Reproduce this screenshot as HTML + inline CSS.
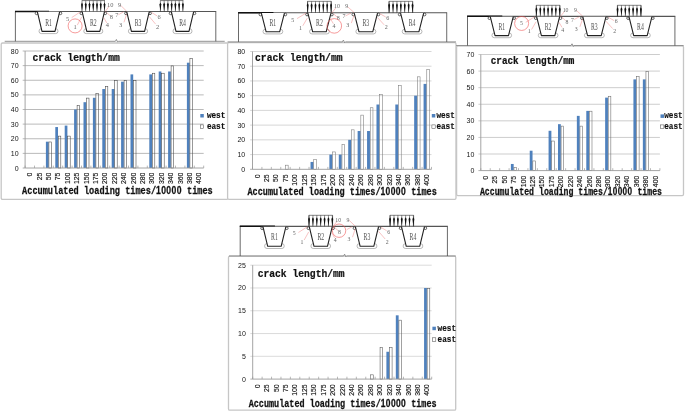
<!DOCTYPE html>
<html lang="en">
<head>
<meta charset="utf-8">
<title>Crack length versus accumulated loading times</title>
<style>
html,body{margin:0;padding:0;background:#fff;}
body{width:685px;height:412px;overflow:hidden;}
svg{display:block;}
</style>
</head>
<body>
<svg width="685" height="412" viewBox="0 0 685 412">
<rect x="0" y="0" width="685" height="412" fill="#fff"/>
<g>
<rect x="1.2" y="43" width="226.8" height="156.4" rx="1.3" fill="#fff" stroke="#c6c6c6" stroke-width="1.3"/>
<line x1="22.7" y1="168" x2="25.1" y2="168" stroke="#9a9a9a" stroke-width="0.8"/>
<text x="18.6" y="170.5" text-anchor="end" font-family='"Liberation Sans", sans-serif' font-size="7" fill="#151515">0</text>
<line x1="22.7" y1="153.38" x2="203.7" y2="153.38" stroke="#a8a8a8" stroke-width="0.8"/>
<text x="18.6" y="155.88" text-anchor="end" font-family='"Liberation Sans", sans-serif' font-size="7" fill="#151515">10</text>
<line x1="22.7" y1="138.75" x2="203.7" y2="138.75" stroke="#a8a8a8" stroke-width="0.8"/>
<text x="18.6" y="141.25" text-anchor="end" font-family='"Liberation Sans", sans-serif' font-size="7" fill="#151515">20</text>
<line x1="22.7" y1="124.12" x2="203.7" y2="124.12" stroke="#a8a8a8" stroke-width="0.8"/>
<text x="18.6" y="126.62" text-anchor="end" font-family='"Liberation Sans", sans-serif' font-size="7" fill="#151515">30</text>
<line x1="22.7" y1="109.5" x2="203.7" y2="109.5" stroke="#a8a8a8" stroke-width="0.8"/>
<text x="18.6" y="112" text-anchor="end" font-family='"Liberation Sans", sans-serif' font-size="7" fill="#151515">40</text>
<line x1="22.7" y1="94.88" x2="203.7" y2="94.88" stroke="#a8a8a8" stroke-width="0.8"/>
<text x="18.6" y="97.38" text-anchor="end" font-family='"Liberation Sans", sans-serif' font-size="7" fill="#151515">50</text>
<line x1="22.7" y1="80.25" x2="203.7" y2="80.25" stroke="#a8a8a8" stroke-width="0.8"/>
<text x="18.6" y="82.75" text-anchor="end" font-family='"Liberation Sans", sans-serif' font-size="7" fill="#151515">60</text>
<line x1="22.7" y1="65.62" x2="203.7" y2="65.62" stroke="#a8a8a8" stroke-width="0.8"/>
<text x="18.6" y="68.12" text-anchor="end" font-family='"Liberation Sans", sans-serif' font-size="7" fill="#151515">70</text>
<line x1="22.7" y1="51" x2="203.7" y2="51" stroke="#a8a8a8" stroke-width="0.8"/>
<text x="18.6" y="53.5" text-anchor="end" font-family='"Liberation Sans", sans-serif' font-size="7" fill="#151515">80</text>
<rect x="45.9" y="141.68" width="2.7" height="26.32" fill="#4f81bd"/>
<rect x="48.9" y="141.98" width="2.5" height="26.02" fill="none" stroke="#444" stroke-width="0.55"/>
<rect x="55.3" y="127.05" width="2.7" height="40.95" fill="#4f81bd"/>
<rect x="58.3" y="136.12" width="2.5" height="31.87" fill="none" stroke="#444" stroke-width="0.55"/>
<rect x="64.7" y="125.59" width="2.7" height="42.41" fill="#4f81bd"/>
<rect x="67.7" y="136.12" width="2.5" height="31.87" fill="none" stroke="#444" stroke-width="0.55"/>
<rect x="74.1" y="109.5" width="2.7" height="58.5" fill="#4f81bd"/>
<rect x="77.1" y="105.41" width="2.5" height="62.59" fill="none" stroke="#444" stroke-width="0.55"/>
<rect x="83.5" y="102.19" width="2.7" height="65.81" fill="#4f81bd"/>
<rect x="86.5" y="98.1" width="2.5" height="69.9" fill="none" stroke="#444" stroke-width="0.55"/>
<rect x="92.9" y="97.8" width="2.7" height="70.2" fill="#4f81bd"/>
<rect x="95.9" y="93.71" width="2.5" height="74.29" fill="none" stroke="#444" stroke-width="0.55"/>
<rect x="102.3" y="89.03" width="2.7" height="78.97" fill="#4f81bd"/>
<rect x="105.3" y="86.4" width="2.5" height="81.6" fill="none" stroke="#444" stroke-width="0.55"/>
<rect x="111.7" y="89.03" width="2.7" height="78.97" fill="#4f81bd"/>
<rect x="114.7" y="80.55" width="2.5" height="87.45" fill="none" stroke="#444" stroke-width="0.55"/>
<rect x="121.1" y="81.71" width="2.7" height="86.29" fill="#4f81bd"/>
<rect x="124.1" y="80.55" width="2.5" height="87.45" fill="none" stroke="#444" stroke-width="0.55"/>
<rect x="130.5" y="74.4" width="2.7" height="93.6" fill="#4f81bd"/>
<rect x="133.5" y="80.55" width="2.5" height="87.45" fill="none" stroke="#444" stroke-width="0.55"/>
<rect x="149.3" y="74.4" width="2.7" height="93.6" fill="#4f81bd"/>
<rect x="152.3" y="73.24" width="2.5" height="94.76" fill="none" stroke="#444" stroke-width="0.55"/>
<rect x="158.7" y="71.48" width="2.7" height="96.52" fill="#4f81bd"/>
<rect x="161.7" y="73.24" width="2.5" height="94.76" fill="none" stroke="#444" stroke-width="0.55"/>
<rect x="168.1" y="71.48" width="2.7" height="96.52" fill="#4f81bd"/>
<rect x="171.1" y="65.92" width="2.5" height="102.08" fill="none" stroke="#444" stroke-width="0.55"/>
<rect x="186.9" y="62.7" width="2.7" height="105.3" fill="#4f81bd"/>
<rect x="189.9" y="58.61" width="2.5" height="109.39" fill="none" stroke="#444" stroke-width="0.55"/>
<line x1="25.1" y1="51" x2="25.1" y2="168" stroke="#9a9a9a" stroke-width="0.9"/>
<line x1="25.1" y1="168" x2="203.7" y2="168" stroke="#9a9a9a" stroke-width="0.9"/>
<path d="M25.1 168 v-2.4 M34.5 168 v-2.4 M43.9 168 v-2.4 M53.3 168 v-2.4 M62.7 168 v-2.4 M72.1 168 v-2.4 M81.5 168 v-2.4 M90.9 168 v-2.4 M100.3 168 v-2.4 M109.7 168 v-2.4 M119.1 168 v-2.4 M128.5 168 v-2.4 M137.9 168 v-2.4 M147.3 168 v-2.4 M156.7 168 v-2.4 M166.1 168 v-2.4 M175.5 168 v-2.4 M184.9 168 v-2.4 M194.3 168 v-2.4 M203.7 168 v-2.4" stroke="#9a9a9a" stroke-width="0.7" fill="none"/>
<text transform="translate(32.2 172.6) rotate(-90) scale(1 1.1)" text-anchor="end" font-family='"Liberation Sans", sans-serif' font-size="6.9" fill="#111" stroke="#111" stroke-width="0.12">0</text>
<text transform="translate(41.6 172.6) rotate(-90) scale(1 1.1)" text-anchor="end" font-family='"Liberation Sans", sans-serif' font-size="6.9" fill="#111" stroke="#111" stroke-width="0.12">25</text>
<text transform="translate(51 172.6) rotate(-90) scale(1 1.1)" text-anchor="end" font-family='"Liberation Sans", sans-serif' font-size="6.9" fill="#111" stroke="#111" stroke-width="0.12">50</text>
<text transform="translate(60.4 172.6) rotate(-90) scale(1 1.1)" text-anchor="end" font-family='"Liberation Sans", sans-serif' font-size="6.9" fill="#111" stroke="#111" stroke-width="0.12">75</text>
<text transform="translate(69.8 172.6) rotate(-90) scale(1 1.1)" text-anchor="end" font-family='"Liberation Sans", sans-serif' font-size="6.9" fill="#111" stroke="#111" stroke-width="0.12">100</text>
<text transform="translate(79.2 172.6) rotate(-90) scale(1 1.1)" text-anchor="end" font-family='"Liberation Sans", sans-serif' font-size="6.9" fill="#111" stroke="#111" stroke-width="0.12">125</text>
<text transform="translate(88.6 172.6) rotate(-90) scale(1 1.1)" text-anchor="end" font-family='"Liberation Sans", sans-serif' font-size="6.9" fill="#111" stroke="#111" stroke-width="0.12">150</text>
<text transform="translate(98 172.6) rotate(-90) scale(1 1.1)" text-anchor="end" font-family='"Liberation Sans", sans-serif' font-size="6.9" fill="#111" stroke="#111" stroke-width="0.12">175</text>
<text transform="translate(107.4 172.6) rotate(-90) scale(1 1.1)" text-anchor="end" font-family='"Liberation Sans", sans-serif' font-size="6.9" fill="#111" stroke="#111" stroke-width="0.12">200</text>
<text transform="translate(116.8 172.6) rotate(-90) scale(1 1.1)" text-anchor="end" font-family='"Liberation Sans", sans-serif' font-size="6.9" fill="#111" stroke="#111" stroke-width="0.12">220</text>
<text transform="translate(126.2 172.6) rotate(-90) scale(1 1.1)" text-anchor="end" font-family='"Liberation Sans", sans-serif' font-size="6.9" fill="#111" stroke="#111" stroke-width="0.12">240</text>
<text transform="translate(135.6 172.6) rotate(-90) scale(1 1.1)" text-anchor="end" font-family='"Liberation Sans", sans-serif' font-size="6.9" fill="#111" stroke="#111" stroke-width="0.12">260</text>
<text transform="translate(145 172.6) rotate(-90) scale(1 1.1)" text-anchor="end" font-family='"Liberation Sans", sans-serif' font-size="6.9" fill="#111" stroke="#111" stroke-width="0.12">280</text>
<text transform="translate(154.4 172.6) rotate(-90) scale(1 1.1)" text-anchor="end" font-family='"Liberation Sans", sans-serif' font-size="6.9" fill="#111" stroke="#111" stroke-width="0.12">300</text>
<text transform="translate(163.8 172.6) rotate(-90) scale(1 1.1)" text-anchor="end" font-family='"Liberation Sans", sans-serif' font-size="6.9" fill="#111" stroke="#111" stroke-width="0.12">320</text>
<text transform="translate(173.2 172.6) rotate(-90) scale(1 1.1)" text-anchor="end" font-family='"Liberation Sans", sans-serif' font-size="6.9" fill="#111" stroke="#111" stroke-width="0.12">340</text>
<text transform="translate(182.6 172.6) rotate(-90) scale(1 1.1)" text-anchor="end" font-family='"Liberation Sans", sans-serif' font-size="6.9" fill="#111" stroke="#111" stroke-width="0.12">360</text>
<text transform="translate(192 172.6) rotate(-90) scale(1 1.1)" text-anchor="end" font-family='"Liberation Sans", sans-serif' font-size="6.9" fill="#111" stroke="#111" stroke-width="0.12">380</text>
<text transform="translate(201.4 172.6) rotate(-90) scale(1 1.1)" text-anchor="end" font-family='"Liberation Sans", sans-serif' font-size="6.9" fill="#111" stroke="#111" stroke-width="0.12">400</text>
<text transform="translate(32.5 60.8) scale(1 1.12)" font-family='"Liberation Mono", monospace' font-weight="bold" font-size="9.72" fill="#111" stroke="#111" stroke-width="0.2">crack length/mm</text>
<text transform="translate(22.1 194.4) scale(1 1.26)" font-family='"Liberation Mono", monospace' font-weight="bold" font-size="8.6" fill="#111" stroke="#111" stroke-width="0.2">Accumulated loading times/<tspan font-family='"Liberation Sans", sans-serif' letter-spacing="0.38">10000</tspan> times</text>
<rect x="200.3" y="114" width="3.5" height="3.5" fill="#4f81bd"/>
<text transform="translate(206.9 117.8) scale(1 1.1)" font-family='"Liberation Mono", monospace' font-weight="bold" font-size="7.7" fill="#111" stroke="#111" stroke-width="0.15">west</text>
<rect x="200.4" y="124.9" width="3.3" height="3.6" fill="#fff" stroke="#444" stroke-width="0.5"/>
<text transform="translate(206.9 128.6) scale(1 1.1)" font-family='"Liberation Mono", monospace' font-weight="bold" font-size="7.7" fill="#111" stroke="#111" stroke-width="0.15">east</text>
</g>
<g>
<rect x="227.6" y="42.6" width="228.4" height="156.8" rx="1.3" fill="#fff" stroke="#c6c6c6" stroke-width="1.3"/>
<line x1="250.1" y1="169.3" x2="252.5" y2="169.3" stroke="#9a9a9a" stroke-width="0.8"/>
<text x="245.2" y="171.8" text-anchor="end" font-family='"Liberation Sans", sans-serif' font-size="7" fill="#151515">0</text>
<line x1="250.1" y1="154.58" x2="431.5" y2="154.58" stroke="#cdcdcd" stroke-width="0.8"/>
<text x="245.2" y="157.08" text-anchor="end" font-family='"Liberation Sans", sans-serif' font-size="7" fill="#151515">10</text>
<line x1="250.1" y1="139.85" x2="431.5" y2="139.85" stroke="#cdcdcd" stroke-width="0.8"/>
<text x="245.2" y="142.35" text-anchor="end" font-family='"Liberation Sans", sans-serif' font-size="7" fill="#151515">20</text>
<line x1="250.1" y1="125.12" x2="431.5" y2="125.12" stroke="#cdcdcd" stroke-width="0.8"/>
<text x="245.2" y="127.62" text-anchor="end" font-family='"Liberation Sans", sans-serif' font-size="7" fill="#151515">30</text>
<line x1="250.1" y1="110.4" x2="431.5" y2="110.4" stroke="#cdcdcd" stroke-width="0.8"/>
<text x="245.2" y="112.9" text-anchor="end" font-family='"Liberation Sans", sans-serif' font-size="7" fill="#151515">40</text>
<line x1="250.1" y1="95.68" x2="431.5" y2="95.68" stroke="#cdcdcd" stroke-width="0.8"/>
<text x="245.2" y="98.18" text-anchor="end" font-family='"Liberation Sans", sans-serif' font-size="7" fill="#151515">50</text>
<line x1="250.1" y1="80.95" x2="431.5" y2="80.95" stroke="#cdcdcd" stroke-width="0.8"/>
<text x="245.2" y="83.45" text-anchor="end" font-family='"Liberation Sans", sans-serif' font-size="7" fill="#151515">60</text>
<line x1="250.1" y1="66.22" x2="431.5" y2="66.22" stroke="#cdcdcd" stroke-width="0.8"/>
<text x="245.2" y="68.72" text-anchor="end" font-family='"Liberation Sans", sans-serif' font-size="7" fill="#151515">70</text>
<line x1="250.1" y1="51.5" x2="431.5" y2="51.5" stroke="#cdcdcd" stroke-width="0.8"/>
<text x="245.2" y="54" text-anchor="end" font-family='"Liberation Sans", sans-serif' font-size="7" fill="#151515">80</text>
<rect x="285.46" y="165.18" width="2.7" height="4.12" fill="none" stroke="#777" stroke-width="0.55"/>
<rect x="310.53" y="161.94" width="2.9" height="7.36" fill="#4f81bd"/>
<rect x="313.73" y="159.29" width="2.7" height="10.01" fill="none" stroke="#777" stroke-width="0.55"/>
<rect x="329.37" y="154.58" width="2.9" height="14.73" fill="#4f81bd"/>
<rect x="332.57" y="151.93" width="2.7" height="17.37" fill="none" stroke="#777" stroke-width="0.55"/>
<rect x="338.79" y="154.58" width="2.9" height="14.73" fill="#4f81bd"/>
<rect x="341.99" y="144.57" width="2.7" height="24.73" fill="none" stroke="#777" stroke-width="0.55"/>
<rect x="348.21" y="139.85" width="2.9" height="29.45" fill="#4f81bd"/>
<rect x="351.41" y="129.84" width="2.7" height="39.46" fill="none" stroke="#777" stroke-width="0.55"/>
<rect x="357.63" y="131.02" width="2.9" height="38.29" fill="#4f81bd"/>
<rect x="360.83" y="115.12" width="2.7" height="54.18" fill="none" stroke="#777" stroke-width="0.55"/>
<rect x="367.05" y="131.02" width="2.9" height="38.29" fill="#4f81bd"/>
<rect x="370.25" y="107.76" width="2.7" height="61.55" fill="none" stroke="#777" stroke-width="0.55"/>
<rect x="376.47" y="104.51" width="2.9" height="64.79" fill="#4f81bd"/>
<rect x="379.67" y="94.5" width="2.7" height="74.8" fill="none" stroke="#777" stroke-width="0.55"/>
<rect x="395.32" y="104.51" width="2.9" height="64.79" fill="#4f81bd"/>
<rect x="398.52" y="85.67" width="2.7" height="83.63" fill="none" stroke="#777" stroke-width="0.55"/>
<rect x="414.16" y="95.68" width="2.9" height="73.62" fill="#4f81bd"/>
<rect x="417.36" y="76.83" width="2.7" height="92.47" fill="none" stroke="#777" stroke-width="0.55"/>
<rect x="423.58" y="83.9" width="2.9" height="85.41" fill="#4f81bd"/>
<rect x="426.78" y="69.47" width="2.7" height="99.83" fill="none" stroke="#777" stroke-width="0.55"/>
<line x1="252.5" y1="51.5" x2="252.5" y2="169.3" stroke="#9a9a9a" stroke-width="0.9"/>
<line x1="252.5" y1="169.3" x2="431.5" y2="169.3" stroke="#9a9a9a" stroke-width="0.9"/>
<path d="M252.5 169.3 v-2.4 M261.92 169.3 v-2.4 M271.34 169.3 v-2.4 M280.76 169.3 v-2.4 M290.18 169.3 v-2.4 M299.61 169.3 v-2.4 M309.03 169.3 v-2.4 M318.45 169.3 v-2.4 M327.87 169.3 v-2.4 M337.29 169.3 v-2.4 M346.71 169.3 v-2.4 M356.13 169.3 v-2.4 M365.55 169.3 v-2.4 M374.97 169.3 v-2.4 M384.39 169.3 v-2.4 M393.82 169.3 v-2.4 M403.24 169.3 v-2.4 M412.66 169.3 v-2.4 M422.08 169.3 v-2.4 M431.5 169.3 v-2.4" stroke="#9a9a9a" stroke-width="0.7" fill="none"/>
<text transform="translate(259.61 174.3) rotate(-90) scale(1 1.1)" text-anchor="end" font-family='"Liberation Sans", sans-serif' font-size="6.9" fill="#111" stroke="#111" stroke-width="0.12">0</text>
<text transform="translate(269.03 174.3) rotate(-90) scale(1 1.1)" text-anchor="end" font-family='"Liberation Sans", sans-serif' font-size="6.9" fill="#111" stroke="#111" stroke-width="0.12">25</text>
<text transform="translate(278.45 174.3) rotate(-90) scale(1 1.1)" text-anchor="end" font-family='"Liberation Sans", sans-serif' font-size="6.9" fill="#111" stroke="#111" stroke-width="0.12">50</text>
<text transform="translate(287.87 174.3) rotate(-90) scale(1 1.1)" text-anchor="end" font-family='"Liberation Sans", sans-serif' font-size="6.9" fill="#111" stroke="#111" stroke-width="0.12">75</text>
<text transform="translate(297.29 174.3) rotate(-90) scale(1 1.1)" text-anchor="end" font-family='"Liberation Sans", sans-serif' font-size="6.9" fill="#111" stroke="#111" stroke-width="0.12">100</text>
<text transform="translate(306.72 174.3) rotate(-90) scale(1 1.1)" text-anchor="end" font-family='"Liberation Sans", sans-serif' font-size="6.9" fill="#111" stroke="#111" stroke-width="0.12">125</text>
<text transform="translate(316.14 174.3) rotate(-90) scale(1 1.1)" text-anchor="end" font-family='"Liberation Sans", sans-serif' font-size="6.9" fill="#111" stroke="#111" stroke-width="0.12">150</text>
<text transform="translate(325.56 174.3) rotate(-90) scale(1 1.1)" text-anchor="end" font-family='"Liberation Sans", sans-serif' font-size="6.9" fill="#111" stroke="#111" stroke-width="0.12">175</text>
<text transform="translate(334.98 174.3) rotate(-90) scale(1 1.1)" text-anchor="end" font-family='"Liberation Sans", sans-serif' font-size="6.9" fill="#111" stroke="#111" stroke-width="0.12">200</text>
<text transform="translate(344.4 174.3) rotate(-90) scale(1 1.1)" text-anchor="end" font-family='"Liberation Sans", sans-serif' font-size="6.9" fill="#111" stroke="#111" stroke-width="0.12">220</text>
<text transform="translate(353.82 174.3) rotate(-90) scale(1 1.1)" text-anchor="end" font-family='"Liberation Sans", sans-serif' font-size="6.9" fill="#111" stroke="#111" stroke-width="0.12">240</text>
<text transform="translate(363.24 174.3) rotate(-90) scale(1 1.1)" text-anchor="end" font-family='"Liberation Sans", sans-serif' font-size="6.9" fill="#111" stroke="#111" stroke-width="0.12">260</text>
<text transform="translate(372.66 174.3) rotate(-90) scale(1 1.1)" text-anchor="end" font-family='"Liberation Sans", sans-serif' font-size="6.9" fill="#111" stroke="#111" stroke-width="0.12">280</text>
<text transform="translate(382.08 174.3) rotate(-90) scale(1 1.1)" text-anchor="end" font-family='"Liberation Sans", sans-serif' font-size="6.9" fill="#111" stroke="#111" stroke-width="0.12">300</text>
<text transform="translate(391.51 174.3) rotate(-90) scale(1 1.1)" text-anchor="end" font-family='"Liberation Sans", sans-serif' font-size="6.9" fill="#111" stroke="#111" stroke-width="0.12">320</text>
<text transform="translate(400.93 174.3) rotate(-90) scale(1 1.1)" text-anchor="end" font-family='"Liberation Sans", sans-serif' font-size="6.9" fill="#111" stroke="#111" stroke-width="0.12">340</text>
<text transform="translate(410.35 174.3) rotate(-90) scale(1 1.1)" text-anchor="end" font-family='"Liberation Sans", sans-serif' font-size="6.9" fill="#111" stroke="#111" stroke-width="0.12">360</text>
<text transform="translate(419.77 174.3) rotate(-90) scale(1 1.1)" text-anchor="end" font-family='"Liberation Sans", sans-serif' font-size="6.9" fill="#111" stroke="#111" stroke-width="0.12">380</text>
<text transform="translate(429.19 174.3) rotate(-90) scale(1 1.1)" text-anchor="end" font-family='"Liberation Sans", sans-serif' font-size="6.9" fill="#111" stroke="#111" stroke-width="0.12">400</text>
<text transform="translate(255 61.4) scale(1 1.12)" font-family='"Liberation Mono", monospace' font-weight="bold" font-size="9.73" fill="#111" stroke="#111" stroke-width="0.2">crack length/mm</text>
<text transform="translate(247.4 194.8) scale(1 1.26)" font-family='"Liberation Mono", monospace' font-weight="bold" font-size="8.54" fill="#111" stroke="#111" stroke-width="0.2">Accumulated loading times/<tspan font-family='"Liberation Sans", sans-serif' letter-spacing="0.37">10000</tspan> times</text>
<rect x="431.8" y="114" width="3.5" height="3.5" fill="#4f81bd"/>
<text transform="translate(436.4 117.8) scale(1 1.1)" font-family='"Liberation Mono", monospace' font-weight="bold" font-size="7.7" fill="#111" stroke="#111" stroke-width="0.15">west</text>
<rect x="431.9" y="124.9" width="3.3" height="3.6" fill="#fff" stroke="#444" stroke-width="0.5"/>
<text transform="translate(436.4 128.6) scale(1 1.1)" font-family='"Liberation Mono", monospace' font-weight="bold" font-size="7.7" fill="#111" stroke="#111" stroke-width="0.15">east</text>
</g>
<g>
<rect x="456.6" y="45.8" width="226.9" height="149.8" rx="1.3" fill="#fff" stroke="#c6c6c6" stroke-width="1.3"/>
<line x1="478.4" y1="170.6" x2="480.8" y2="170.6" stroke="#9a9a9a" stroke-width="0.8"/>
<text x="474.3" y="173.1" text-anchor="end" font-family='"Liberation Sans", sans-serif' font-size="7" fill="#151515">0</text>
<line x1="478.4" y1="154.01" x2="659.9" y2="154.01" stroke="#c0c0c0" stroke-width="0.8"/>
<text x="474.3" y="156.51" text-anchor="end" font-family='"Liberation Sans", sans-serif' font-size="7" fill="#151515">10</text>
<line x1="478.4" y1="137.43" x2="659.9" y2="137.43" stroke="#c0c0c0" stroke-width="0.8"/>
<text x="474.3" y="139.93" text-anchor="end" font-family='"Liberation Sans", sans-serif' font-size="7" fill="#151515">20</text>
<line x1="478.4" y1="120.84" x2="659.9" y2="120.84" stroke="#c0c0c0" stroke-width="0.8"/>
<text x="474.3" y="123.34" text-anchor="end" font-family='"Liberation Sans", sans-serif' font-size="7" fill="#151515">30</text>
<line x1="478.4" y1="104.26" x2="659.9" y2="104.26" stroke="#c0c0c0" stroke-width="0.8"/>
<text x="474.3" y="106.76" text-anchor="end" font-family='"Liberation Sans", sans-serif' font-size="7" fill="#151515">40</text>
<line x1="478.4" y1="87.67" x2="659.9" y2="87.67" stroke="#c0c0c0" stroke-width="0.8"/>
<text x="474.3" y="90.17" text-anchor="end" font-family='"Liberation Sans", sans-serif' font-size="7" fill="#151515">50</text>
<line x1="478.4" y1="71.09" x2="659.9" y2="71.09" stroke="#c0c0c0" stroke-width="0.8"/>
<text x="474.3" y="73.59" text-anchor="end" font-family='"Liberation Sans", sans-serif' font-size="7" fill="#151515">60</text>
<line x1="478.4" y1="54.5" x2="659.9" y2="54.5" stroke="#c0c0c0" stroke-width="0.8"/>
<text x="474.3" y="57" text-anchor="end" font-family='"Liberation Sans", sans-serif' font-size="7" fill="#151515">70</text>
<rect x="510.88" y="163.97" width="2.8" height="6.63" fill="#4f81bd"/>
<rect x="513.98" y="167.58" width="2.6" height="3.02" fill="none" stroke="#666" stroke-width="0.55"/>
<rect x="529.73" y="150.7" width="2.8" height="19.9" fill="#4f81bd"/>
<rect x="532.83" y="160.95" width="2.6" height="9.65" fill="none" stroke="#666" stroke-width="0.55"/>
<rect x="548.58" y="130.79" width="2.8" height="39.81" fill="#4f81bd"/>
<rect x="551.68" y="141.05" width="2.6" height="29.55" fill="none" stroke="#666" stroke-width="0.55"/>
<rect x="558.01" y="124.16" width="2.8" height="46.44" fill="#4f81bd"/>
<rect x="561.11" y="126.12" width="2.6" height="44.48" fill="none" stroke="#666" stroke-width="0.55"/>
<rect x="576.86" y="115.87" width="2.8" height="54.73" fill="#4f81bd"/>
<rect x="579.96" y="126.12" width="2.6" height="44.48" fill="none" stroke="#666" stroke-width="0.55"/>
<rect x="586.29" y="110.89" width="2.8" height="59.71" fill="#4f81bd"/>
<rect x="589.39" y="111.19" width="2.6" height="59.41" fill="none" stroke="#666" stroke-width="0.55"/>
<rect x="605.14" y="97.62" width="2.8" height="72.98" fill="#4f81bd"/>
<rect x="608.24" y="96.26" width="2.6" height="74.34" fill="none" stroke="#666" stroke-width="0.55"/>
<rect x="633.42" y="79.38" width="2.8" height="91.22" fill="#4f81bd"/>
<rect x="636.52" y="76.36" width="2.6" height="94.24" fill="none" stroke="#666" stroke-width="0.55"/>
<rect x="642.85" y="79.38" width="2.8" height="91.22" fill="#4f81bd"/>
<rect x="645.95" y="71.39" width="2.6" height="99.21" fill="none" stroke="#666" stroke-width="0.55"/>
<line x1="480.8" y1="54.5" x2="480.8" y2="170.6" stroke="#9a9a9a" stroke-width="0.9"/>
<line x1="480.8" y1="170.6" x2="659.9" y2="170.6" stroke="#9a9a9a" stroke-width="0.9"/>
<path d="M480.8 170.6 v-2.4 M490.23 170.6 v-2.4 M499.65 170.6 v-2.4 M509.08 170.6 v-2.4 M518.51 170.6 v-2.4 M527.93 170.6 v-2.4 M537.36 170.6 v-2.4 M546.78 170.6 v-2.4 M556.21 170.6 v-2.4 M565.64 170.6 v-2.4 M575.06 170.6 v-2.4 M584.49 170.6 v-2.4 M593.92 170.6 v-2.4 M603.34 170.6 v-2.4 M612.77 170.6 v-2.4 M622.19 170.6 v-2.4 M631.62 170.6 v-2.4 M641.05 170.6 v-2.4 M650.47 170.6 v-2.4 M659.9 170.6 v-2.4" stroke="#9a9a9a" stroke-width="0.7" fill="none"/>
<text transform="translate(487.91 175.8) rotate(-90) scale(1 1.1)" text-anchor="end" font-family='"Liberation Sans", sans-serif' font-size="6.9" fill="#111" stroke="#111" stroke-width="0.12">0</text>
<text transform="translate(497.34 175.8) rotate(-90) scale(1 1.1)" text-anchor="end" font-family='"Liberation Sans", sans-serif' font-size="6.9" fill="#111" stroke="#111" stroke-width="0.12">25</text>
<text transform="translate(506.77 175.8) rotate(-90) scale(1 1.1)" text-anchor="end" font-family='"Liberation Sans", sans-serif' font-size="6.9" fill="#111" stroke="#111" stroke-width="0.12">50</text>
<text transform="translate(516.19 175.8) rotate(-90) scale(1 1.1)" text-anchor="end" font-family='"Liberation Sans", sans-serif' font-size="6.9" fill="#111" stroke="#111" stroke-width="0.12">75</text>
<text transform="translate(525.62 175.8) rotate(-90) scale(1 1.1)" text-anchor="end" font-family='"Liberation Sans", sans-serif' font-size="6.9" fill="#111" stroke="#111" stroke-width="0.12">100</text>
<text transform="translate(535.04 175.8) rotate(-90) scale(1 1.1)" text-anchor="end" font-family='"Liberation Sans", sans-serif' font-size="6.9" fill="#111" stroke="#111" stroke-width="0.12">125</text>
<text transform="translate(544.47 175.8) rotate(-90) scale(1 1.1)" text-anchor="end" font-family='"Liberation Sans", sans-serif' font-size="6.9" fill="#111" stroke="#111" stroke-width="0.12">150</text>
<text transform="translate(553.9 175.8) rotate(-90) scale(1 1.1)" text-anchor="end" font-family='"Liberation Sans", sans-serif' font-size="6.9" fill="#111" stroke="#111" stroke-width="0.12">175</text>
<text transform="translate(563.32 175.8) rotate(-90) scale(1 1.1)" text-anchor="end" font-family='"Liberation Sans", sans-serif' font-size="6.9" fill="#111" stroke="#111" stroke-width="0.12">200</text>
<text transform="translate(572.75 175.8) rotate(-90) scale(1 1.1)" text-anchor="end" font-family='"Liberation Sans", sans-serif' font-size="6.9" fill="#111" stroke="#111" stroke-width="0.12">220</text>
<text transform="translate(582.18 175.8) rotate(-90) scale(1 1.1)" text-anchor="end" font-family='"Liberation Sans", sans-serif' font-size="6.9" fill="#111" stroke="#111" stroke-width="0.12">240</text>
<text transform="translate(591.6 175.8) rotate(-90) scale(1 1.1)" text-anchor="end" font-family='"Liberation Sans", sans-serif' font-size="6.9" fill="#111" stroke="#111" stroke-width="0.12">260</text>
<text transform="translate(601.03 175.8) rotate(-90) scale(1 1.1)" text-anchor="end" font-family='"Liberation Sans", sans-serif' font-size="6.9" fill="#111" stroke="#111" stroke-width="0.12">280</text>
<text transform="translate(610.46 175.8) rotate(-90) scale(1 1.1)" text-anchor="end" font-family='"Liberation Sans", sans-serif' font-size="6.9" fill="#111" stroke="#111" stroke-width="0.12">300</text>
<text transform="translate(619.88 175.8) rotate(-90) scale(1 1.1)" text-anchor="end" font-family='"Liberation Sans", sans-serif' font-size="6.9" fill="#111" stroke="#111" stroke-width="0.12">320</text>
<text transform="translate(629.31 175.8) rotate(-90) scale(1 1.1)" text-anchor="end" font-family='"Liberation Sans", sans-serif' font-size="6.9" fill="#111" stroke="#111" stroke-width="0.12">340</text>
<text transform="translate(638.73 175.8) rotate(-90) scale(1 1.1)" text-anchor="end" font-family='"Liberation Sans", sans-serif' font-size="6.9" fill="#111" stroke="#111" stroke-width="0.12">360</text>
<text transform="translate(648.16 175.8) rotate(-90) scale(1 1.1)" text-anchor="end" font-family='"Liberation Sans", sans-serif' font-size="6.9" fill="#111" stroke="#111" stroke-width="0.12">380</text>
<text transform="translate(657.59 175.8) rotate(-90) scale(1 1.1)" text-anchor="end" font-family='"Liberation Sans", sans-serif' font-size="6.9" fill="#111" stroke="#111" stroke-width="0.12">400</text>
<text transform="translate(490.8 64.3) scale(1 1.12)" font-family='"Liberation Mono", monospace' font-weight="bold" font-size="9.3" fill="#111" stroke="#111" stroke-width="0.2">crack length/mm</text>
<text transform="translate(479.9 195.2) scale(1 1.26)" font-family='"Liberation Mono", monospace' font-weight="bold" font-size="8.21" fill="#111" stroke="#111" stroke-width="0.2">Accumulated loading times/<tspan font-family='"Liberation Sans", sans-serif' letter-spacing="0.36">10000</tspan> times</text>
<rect x="660.5" y="114.4" width="3.5" height="3.5" fill="#4f81bd"/>
<text transform="translate(664.2 118.2) scale(1 1.1)" font-family='"Liberation Mono", monospace' font-weight="bold" font-size="7.7" fill="#111" stroke="#111" stroke-width="0.15">west</text>
<rect x="660.6" y="124.9" width="3.3" height="3.6" fill="#fff" stroke="#444" stroke-width="0.5"/>
<text transform="translate(664.2 128.6) scale(1 1.1)" font-family='"Liberation Mono", monospace' font-weight="bold" font-size="7.7" fill="#111" stroke="#111" stroke-width="0.15">east</text>
</g>
<g>
<rect x="228.5" y="256.2" width="227.2" height="154" rx="1.3" fill="#fff" stroke="#c6c6c6" stroke-width="1.3"/>
<line x1="250.3" y1="379.1" x2="252.7" y2="379.1" stroke="#9a9a9a" stroke-width="0.8"/>
<text x="245.8" y="381.6" text-anchor="end" font-family='"Liberation Sans", sans-serif' font-size="7" fill="#151515">0</text>
<line x1="250.3" y1="356.32" x2="431.7" y2="356.32" stroke="#d2d2d2" stroke-width="0.8"/>
<text x="245.8" y="358.82" text-anchor="end" font-family='"Liberation Sans", sans-serif' font-size="7" fill="#151515">5</text>
<line x1="250.3" y1="333.54" x2="431.7" y2="333.54" stroke="#d2d2d2" stroke-width="0.8"/>
<text x="245.8" y="336.04" text-anchor="end" font-family='"Liberation Sans", sans-serif' font-size="7" fill="#151515">10</text>
<line x1="250.3" y1="310.76" x2="431.7" y2="310.76" stroke="#d2d2d2" stroke-width="0.8"/>
<text x="245.8" y="313.26" text-anchor="end" font-family='"Liberation Sans", sans-serif' font-size="7" fill="#151515">15</text>
<line x1="250.3" y1="287.98" x2="431.7" y2="287.98" stroke="#d2d2d2" stroke-width="0.8"/>
<text x="245.8" y="290.48" text-anchor="end" font-family='"Liberation Sans", sans-serif' font-size="7" fill="#151515">20</text>
<line x1="250.3" y1="265.2" x2="431.7" y2="265.2" stroke="#d2d2d2" stroke-width="0.8"/>
<text x="245.8" y="267.7" text-anchor="end" font-family='"Liberation Sans", sans-serif' font-size="7" fill="#151515">25</text>
<rect x="370.65" y="374.84" width="2.6" height="4.26" fill="none" stroke="#555" stroke-width="0.55"/>
<rect x="380.07" y="347.51" width="2.6" height="31.59" fill="none" stroke="#555" stroke-width="0.55"/>
<rect x="386.39" y="351.76" width="2.8" height="27.34" fill="#4f81bd"/>
<rect x="389.49" y="347.51" width="2.6" height="31.59" fill="none" stroke="#555" stroke-width="0.55"/>
<rect x="395.82" y="315.32" width="2.8" height="63.78" fill="#4f81bd"/>
<rect x="398.92" y="320.17" width="2.6" height="58.93" fill="none" stroke="#555" stroke-width="0.55"/>
<rect x="424.08" y="287.98" width="2.8" height="91.12" fill="#4f81bd"/>
<rect x="427.18" y="288.28" width="2.6" height="90.82" fill="none" stroke="#555" stroke-width="0.55"/>
<line x1="252.7" y1="265.2" x2="252.7" y2="379.1" stroke="#9a9a9a" stroke-width="0.9"/>
<line x1="252.7" y1="379.1" x2="431.7" y2="379.1" stroke="#9a9a9a" stroke-width="0.9"/>
<path d="M252.7 379.1 v-2.4 M262.12 379.1 v-2.4 M271.54 379.1 v-2.4 M280.96 379.1 v-2.4 M290.38 379.1 v-2.4 M299.81 379.1 v-2.4 M309.23 379.1 v-2.4 M318.65 379.1 v-2.4 M328.07 379.1 v-2.4 M337.49 379.1 v-2.4 M346.91 379.1 v-2.4 M356.33 379.1 v-2.4 M365.75 379.1 v-2.4 M375.17 379.1 v-2.4 M384.59 379.1 v-2.4 M394.02 379.1 v-2.4 M403.44 379.1 v-2.4 M412.86 379.1 v-2.4 M422.28 379.1 v-2.4 M431.7 379.1 v-2.4" stroke="#9a9a9a" stroke-width="0.7" fill="none"/>
<text transform="translate(259.81 384.3) rotate(-90) scale(1 1.1)" text-anchor="end" font-family='"Liberation Sans", sans-serif' font-size="6.9" fill="#111" stroke="#111" stroke-width="0.12">0</text>
<text transform="translate(269.23 384.3) rotate(-90) scale(1 1.1)" text-anchor="end" font-family='"Liberation Sans", sans-serif' font-size="6.9" fill="#111" stroke="#111" stroke-width="0.12">25</text>
<text transform="translate(278.65 384.3) rotate(-90) scale(1 1.1)" text-anchor="end" font-family='"Liberation Sans", sans-serif' font-size="6.9" fill="#111" stroke="#111" stroke-width="0.12">50</text>
<text transform="translate(288.07 384.3) rotate(-90) scale(1 1.1)" text-anchor="end" font-family='"Liberation Sans", sans-serif' font-size="6.9" fill="#111" stroke="#111" stroke-width="0.12">75</text>
<text transform="translate(297.49 384.3) rotate(-90) scale(1 1.1)" text-anchor="end" font-family='"Liberation Sans", sans-serif' font-size="6.9" fill="#111" stroke="#111" stroke-width="0.12">100</text>
<text transform="translate(306.92 384.3) rotate(-90) scale(1 1.1)" text-anchor="end" font-family='"Liberation Sans", sans-serif' font-size="6.9" fill="#111" stroke="#111" stroke-width="0.12">125</text>
<text transform="translate(316.34 384.3) rotate(-90) scale(1 1.1)" text-anchor="end" font-family='"Liberation Sans", sans-serif' font-size="6.9" fill="#111" stroke="#111" stroke-width="0.12">150</text>
<text transform="translate(325.76 384.3) rotate(-90) scale(1 1.1)" text-anchor="end" font-family='"Liberation Sans", sans-serif' font-size="6.9" fill="#111" stroke="#111" stroke-width="0.12">175</text>
<text transform="translate(335.18 384.3) rotate(-90) scale(1 1.1)" text-anchor="end" font-family='"Liberation Sans", sans-serif' font-size="6.9" fill="#111" stroke="#111" stroke-width="0.12">200</text>
<text transform="translate(344.6 384.3) rotate(-90) scale(1 1.1)" text-anchor="end" font-family='"Liberation Sans", sans-serif' font-size="6.9" fill="#111" stroke="#111" stroke-width="0.12">220</text>
<text transform="translate(354.02 384.3) rotate(-90) scale(1 1.1)" text-anchor="end" font-family='"Liberation Sans", sans-serif' font-size="6.9" fill="#111" stroke="#111" stroke-width="0.12">240</text>
<text transform="translate(363.44 384.3) rotate(-90) scale(1 1.1)" text-anchor="end" font-family='"Liberation Sans", sans-serif' font-size="6.9" fill="#111" stroke="#111" stroke-width="0.12">260</text>
<text transform="translate(372.86 384.3) rotate(-90) scale(1 1.1)" text-anchor="end" font-family='"Liberation Sans", sans-serif' font-size="6.9" fill="#111" stroke="#111" stroke-width="0.12">280</text>
<text transform="translate(382.28 384.3) rotate(-90) scale(1 1.1)" text-anchor="end" font-family='"Liberation Sans", sans-serif' font-size="6.9" fill="#111" stroke="#111" stroke-width="0.12">300</text>
<text transform="translate(391.71 384.3) rotate(-90) scale(1 1.1)" text-anchor="end" font-family='"Liberation Sans", sans-serif' font-size="6.9" fill="#111" stroke="#111" stroke-width="0.12">320</text>
<text transform="translate(401.13 384.3) rotate(-90) scale(1 1.1)" text-anchor="end" font-family='"Liberation Sans", sans-serif' font-size="6.9" fill="#111" stroke="#111" stroke-width="0.12">340</text>
<text transform="translate(410.55 384.3) rotate(-90) scale(1 1.1)" text-anchor="end" font-family='"Liberation Sans", sans-serif' font-size="6.9" fill="#111" stroke="#111" stroke-width="0.12">360</text>
<text transform="translate(419.97 384.3) rotate(-90) scale(1 1.1)" text-anchor="end" font-family='"Liberation Sans", sans-serif' font-size="6.9" fill="#111" stroke="#111" stroke-width="0.12">380</text>
<text transform="translate(429.39 384.3) rotate(-90) scale(1 1.1)" text-anchor="end" font-family='"Liberation Sans", sans-serif' font-size="6.9" fill="#111" stroke="#111" stroke-width="0.12">400</text>
<text transform="translate(257.7 277.1) scale(1 1.12)" font-family='"Liberation Mono", monospace' font-weight="bold" font-size="9.67" fill="#111" stroke="#111" stroke-width="0.2">crack length/mm</text>
<text transform="translate(248.7 406.6) scale(1 1.26)" font-family='"Liberation Mono", monospace' font-weight="bold" font-size="8.48" fill="#111" stroke="#111" stroke-width="0.2">Accumulated loading times/<tspan font-family='"Liberation Sans", sans-serif' letter-spacing="0.37">10000</tspan> times</text>
<rect x="432.4" y="326.7" width="3.5" height="3.5" fill="#4f81bd"/>
<text transform="translate(437.6 330.5) scale(1 1.1)" font-family='"Liberation Mono", monospace' font-weight="bold" font-size="7.7" fill="#111" stroke="#111" stroke-width="0.15">west</text>
<rect x="432.5" y="337.8" width="3.3" height="3.6" fill="#fff" stroke="#444" stroke-width="0.5"/>
<text transform="translate(437.6 341.5) scale(1 1.1)" font-family='"Liberation Mono", monospace' font-weight="bold" font-size="7.7" fill="#111" stroke="#111" stroke-width="0.15">east</text>
</g>
<g>
<path d="M4.7 41.3 H115.4 l1 -1.8 l1.2 2.6 l0.8 -0.8 H224.7" fill="none" stroke="#858585" stroke-width="0.9"/>
<path d="M15.4 11.5 V41.3 M215.8 11.5 V41.3" fill="none" stroke="#444" stroke-width="0.8"/>
<line x1="15" y1="11.5" x2="216.2" y2="11.5" stroke="#555" stroke-width="1.1"/>
<line x1="15" y1="11.4" x2="49" y2="11.4" stroke="#111" stroke-width="1.5"/>
<rect x="39" y="28.7" width="19" height="4.9" rx="2.4" fill="#fff" stroke="#8a8a8a" stroke-width="0.6"/>
<circle cx="36.55" cy="13.3" r="1.35" fill="#fff" stroke="#222" stroke-width="0.7"/>
<circle cx="60.45" cy="13.3" r="1.35" fill="#fff" stroke="#222" stroke-width="0.7"/>
<path d="M37.4 11.8 L42 31.4 H55 L59.6 11.8" fill="#fff" stroke="#222" stroke-width="1.1" stroke-linejoin="round"/>
<text x="0" y="0" transform="translate(48.5 25.5) scale(0.55 1)" text-anchor="middle" font-family='"Liberation Serif", serif' font-size="10.5" fill="#505050">R1</text>
<rect x="83.8" y="28.7" width="19" height="4.9" rx="2.4" fill="#fff" stroke="#8a8a8a" stroke-width="0.6"/>
<circle cx="81.35" cy="13.3" r="1.35" fill="#fff" stroke="#222" stroke-width="0.7"/>
<circle cx="105.25" cy="13.3" r="1.35" fill="#fff" stroke="#222" stroke-width="0.7"/>
<path d="M82.2 11.8 L86.8 31.4 H99.8 L104.4 11.8" fill="#fff" stroke="#222" stroke-width="1.1" stroke-linejoin="round"/>
<text x="0" y="0" transform="translate(93.3 25.5) scale(0.55 1)" text-anchor="middle" font-family='"Liberation Serif", serif' font-size="10.5" fill="#505050">R2</text>
<rect x="128.4" y="28.7" width="19.2" height="4.9" rx="2.4" fill="#fff" stroke="#8a8a8a" stroke-width="0.6"/>
<circle cx="125.95" cy="13.3" r="1.35" fill="#fff" stroke="#222" stroke-width="0.7"/>
<circle cx="150.05" cy="13.3" r="1.35" fill="#fff" stroke="#222" stroke-width="0.7"/>
<path d="M126.8 11.8 L131.4 31.4 H144.6 L149.2 11.8" fill="#fff" stroke="#222" stroke-width="1.1" stroke-linejoin="round"/>
<text x="0" y="0" transform="translate(138 25.5) scale(0.55 1)" text-anchor="middle" font-family='"Liberation Serif", serif' font-size="10.5" fill="#505050">R3</text>
<rect x="173" y="28.7" width="19" height="4.9" rx="2.4" fill="#fff" stroke="#8a8a8a" stroke-width="0.6"/>
<circle cx="170.55" cy="13.3" r="1.35" fill="#fff" stroke="#222" stroke-width="0.7"/>
<circle cx="194.45" cy="13.3" r="1.35" fill="#fff" stroke="#222" stroke-width="0.7"/>
<path d="M171.4 11.8 L176 31.4 H189 L193.6 11.8" fill="#fff" stroke="#222" stroke-width="1.1" stroke-linejoin="round"/>
<text x="0" y="0" transform="translate(182.5 25.5) scale(0.55 1)" text-anchor="middle" font-family='"Liberation Serif", serif' font-size="10.5" fill="#505050">R4</text>
<line x1="81.8" y1="0.6" x2="105" y2="0.6" stroke="#555" stroke-width="0.8"/>
<path d="M82 0.6 V11.5" stroke="#222" stroke-width="0.5" fill="none"/>
<path d="M82 2.6 L82.95 4.4 L82 11.4 L81.05 4.4 Z" fill="#111"/>
<path d="M85.75 0.6 V11.5" stroke="#222" stroke-width="0.5" fill="none"/>
<path d="M85.75 2.6 L86.7 4.4 L85.75 11.4 L84.8 4.4 Z" fill="#111"/>
<path d="M89.5 0.6 V11.5" stroke="#222" stroke-width="0.5" fill="none"/>
<path d="M89.5 2.6 L90.45 4.4 L89.5 11.4 L88.55 4.4 Z" fill="#111"/>
<path d="M93.25 0.6 V11.5" stroke="#222" stroke-width="0.5" fill="none"/>
<path d="M93.25 2.6 L94.2 4.4 L93.25 11.4 L92.3 4.4 Z" fill="#111"/>
<path d="M97 0.6 V11.5" stroke="#222" stroke-width="0.5" fill="none"/>
<path d="M97 2.6 L97.95 4.4 L97 11.4 L96.05 4.4 Z" fill="#111"/>
<path d="M100.75 0.6 V11.5" stroke="#222" stroke-width="0.5" fill="none"/>
<path d="M100.75 2.6 L101.7 4.4 L100.75 11.4 L99.8 4.4 Z" fill="#111"/>
<path d="M104.5 0.6 V11.5" stroke="#222" stroke-width="0.5" fill="none"/>
<path d="M104.5 2.6 L105.45 4.4 L104.5 11.4 L103.55 4.4 Z" fill="#111"/>
<line x1="160.2" y1="0.6" x2="183.4" y2="0.6" stroke="#555" stroke-width="0.8"/>
<path d="M160.4 0.6 V11.5" stroke="#222" stroke-width="0.5" fill="none"/>
<path d="M160.4 2.6 L161.35 4.4 L160.4 11.4 L159.45 4.4 Z" fill="#111"/>
<path d="M164.15 0.6 V11.5" stroke="#222" stroke-width="0.5" fill="none"/>
<path d="M164.15 2.6 L165.1 4.4 L164.15 11.4 L163.2 4.4 Z" fill="#111"/>
<path d="M167.9 0.6 V11.5" stroke="#222" stroke-width="0.5" fill="none"/>
<path d="M167.9 2.6 L168.85 4.4 L167.9 11.4 L166.95 4.4 Z" fill="#111"/>
<path d="M171.65 0.6 V11.5" stroke="#222" stroke-width="0.5" fill="none"/>
<path d="M171.65 2.6 L172.6 4.4 L171.65 11.4 L170.7 4.4 Z" fill="#111"/>
<path d="M175.4 0.6 V11.5" stroke="#222" stroke-width="0.5" fill="none"/>
<path d="M175.4 2.6 L176.35 4.4 L175.4 11.4 L174.45 4.4 Z" fill="#111"/>
<path d="M179.15 0.6 V11.5" stroke="#222" stroke-width="0.5" fill="none"/>
<path d="M179.15 2.6 L180.1 4.4 L179.15 11.4 L178.2 4.4 Z" fill="#111"/>
<path d="M182.9 0.6 V11.5" stroke="#222" stroke-width="0.5" fill="none"/>
<path d="M182.9 2.6 L183.85 4.4 L182.9 11.4 L181.95 4.4 Z" fill="#111"/>
<line x1="71.7" y1="17.6" x2="80.4" y2="11.8" stroke="#f07878" stroke-width="0.45"/>
<line x1="77.3" y1="25.1" x2="81.6" y2="17.1" stroke="#f07878" stroke-width="0.45"/>
<line x1="109" y1="6.5" x2="105" y2="11.8" stroke="#f07878" stroke-width="0.45"/>
<line x1="106.7" y1="12.4" x2="110.2" y2="15.9" stroke="#f07878" stroke-width="0.45"/>
<line x1="103.8" y1="17.6" x2="106.7" y2="22.9" stroke="#f07878" stroke-width="0.45"/>
<line x1="120.7" y1="5.4" x2="126.6" y2="11.2" stroke="#f07878" stroke-width="0.45"/>
<line x1="118.4" y1="14.7" x2="123.7" y2="11.8" stroke="#f07878" stroke-width="0.45"/>
<line x1="124" y1="22.3" x2="126.6" y2="14.1" stroke="#f07878" stroke-width="0.45"/>
<line x1="151.5" y1="12.4" x2="157.1" y2="15.9" stroke="#f07878" stroke-width="0.45"/>
<line x1="149.2" y1="16.5" x2="155.6" y2="24.1" stroke="#f07878" stroke-width="0.45"/>
<text x="67.6" y="20.78" text-anchor="middle" font-family='"Liberation Serif", serif' font-size="6.4" fill="#666">5</text>
<text x="75" y="29.28" text-anchor="middle" font-family='"Liberation Serif", serif' font-size="6.4" fill="#666">1</text>
<text x="110.2" y="6.98" text-anchor="middle" font-family='"Liberation Serif", serif' font-size="6.4" fill="#666">10</text>
<text x="119.6" y="6.98" text-anchor="middle" font-family='"Liberation Serif", serif' font-size="6.4" fill="#666">9</text>
<text x="111.4" y="19.28" text-anchor="middle" font-family='"Liberation Serif", serif' font-size="6.4" fill="#666">8</text>
<text x="116.9" y="17.48" text-anchor="middle" font-family='"Liberation Serif", serif' font-size="6.4" fill="#666">7</text>
<text x="107.3" y="27.28" text-anchor="middle" font-family='"Liberation Serif", serif' font-size="6.4" fill="#666">4</text>
<text x="120.5" y="26.78" text-anchor="middle" font-family='"Liberation Serif", serif' font-size="6.4" fill="#666">3</text>
<text x="159.1" y="18.98" text-anchor="middle" font-family='"Liberation Serif", serif' font-size="6.4" fill="#666">6</text>
<text x="157.6" y="28.88" text-anchor="middle" font-family='"Liberation Serif", serif' font-size="6.4" fill="#666">2</text>
<circle cx="75.1" cy="25.9" r="7" fill="none" stroke="#f05858" stroke-width="0.6"/>
</g>
<g>
<path d="M227.59 41.9 H342.4 l1 -1.8 l1.2 2.6 l0.8 -0.8 H455.96" fill="none" stroke="#858585" stroke-width="0.9"/>
<path d="M238.5 12.8 V41.9 M446.72 12.8 V41.9" fill="none" stroke="#444" stroke-width="0.8"/>
<line x1="238.1" y1="12.8" x2="447.12" y2="12.8" stroke="#555" stroke-width="1.1"/>
<line x1="238.1" y1="12.7" x2="273.41" y2="12.7" stroke="#111" stroke-width="1.5"/>
<rect x="263.02" y="29.23" width="19.74" height="4.68" rx="2.4" fill="#fff" stroke="#8a8a8a" stroke-width="0.6"/>
<circle cx="260.47" cy="14.52" r="1.35" fill="#fff" stroke="#222" stroke-width="0.7"/>
<circle cx="285.31" cy="14.52" r="1.35" fill="#fff" stroke="#222" stroke-width="0.7"/>
<path d="M261.36 13.09 L266.14 31.8 H279.64 L284.42 13.09" fill="#fff" stroke="#222" stroke-width="1.1" stroke-linejoin="round"/>
<text x="0" y="0" transform="translate(272.89 26.17) scale(0.55 1)" text-anchor="middle" font-family='"Liberation Serif", serif' font-size="10.5" fill="#505050">R1</text>
<rect x="309.57" y="29.23" width="19.74" height="4.68" rx="2.4" fill="#fff" stroke="#8a8a8a" stroke-width="0.6"/>
<circle cx="307.02" cy="14.52" r="1.35" fill="#fff" stroke="#222" stroke-width="0.7"/>
<circle cx="331.85" cy="14.52" r="1.35" fill="#fff" stroke="#222" stroke-width="0.7"/>
<path d="M307.91 13.09 L312.68 31.8 H326.19 L330.97 13.09" fill="#fff" stroke="#222" stroke-width="1.1" stroke-linejoin="round"/>
<text x="0" y="0" transform="translate(319.44 26.17) scale(0.55 1)" text-anchor="middle" font-family='"Liberation Serif", serif' font-size="10.5" fill="#505050">R2</text>
<rect x="355.91" y="29.23" width="19.95" height="4.68" rx="2.4" fill="#fff" stroke="#8a8a8a" stroke-width="0.6"/>
<circle cx="353.36" cy="14.52" r="1.35" fill="#fff" stroke="#222" stroke-width="0.7"/>
<circle cx="378.4" cy="14.52" r="1.35" fill="#fff" stroke="#222" stroke-width="0.7"/>
<path d="M354.24 13.09 L359.02 31.8 H372.74 L377.52 13.09" fill="#fff" stroke="#222" stroke-width="1.1" stroke-linejoin="round"/>
<text x="0" y="0" transform="translate(365.88 26.17) scale(0.55 1)" text-anchor="middle" font-family='"Liberation Serif", serif' font-size="10.5" fill="#505050">R3</text>
<rect x="402.25" y="29.23" width="19.74" height="4.68" rx="2.4" fill="#fff" stroke="#8a8a8a" stroke-width="0.6"/>
<circle cx="399.7" cy="14.52" r="1.35" fill="#fff" stroke="#222" stroke-width="0.7"/>
<circle cx="424.53" cy="14.52" r="1.35" fill="#fff" stroke="#222" stroke-width="0.7"/>
<path d="M400.58 13.09 L405.36 31.8 H418.87 L423.65 13.09" fill="#fff" stroke="#222" stroke-width="1.1" stroke-linejoin="round"/>
<text x="0" y="0" transform="translate(412.12 26.17) scale(0.55 1)" text-anchor="middle" font-family='"Liberation Serif", serif' font-size="10.5" fill="#505050">R4</text>
<path d="M307.5 12.8 V1.34 H331.32 V12.8" fill="none" stroke="#333" stroke-width="0.6"/>
<path d="M307.7 1.34 V12.8" stroke="#222" stroke-width="0.5" fill="none"/>
<path d="M307.7 3.25 L308.65 4.97 L307.7 12.7 L306.75 4.97 Z" fill="#111"/>
<path d="M311.59 1.34 V12.8" stroke="#222" stroke-width="0.5" fill="none"/>
<path d="M311.59 3.25 L312.54 4.97 L311.59 12.7 L310.64 4.97 Z" fill="#111"/>
<path d="M315.49 1.34 V12.8" stroke="#222" stroke-width="0.5" fill="none"/>
<path d="M315.49 3.25 L316.44 4.97 L315.49 12.7 L314.54 4.97 Z" fill="#111"/>
<path d="M319.39 1.34 V12.8" stroke="#222" stroke-width="0.5" fill="none"/>
<path d="M319.39 3.25 L320.34 4.97 L319.39 12.7 L318.44 4.97 Z" fill="#111"/>
<path d="M323.28 1.34 V12.8" stroke="#222" stroke-width="0.5" fill="none"/>
<path d="M323.28 3.25 L324.23 4.97 L323.28 12.7 L322.33 4.97 Z" fill="#111"/>
<path d="M327.18 1.34 V12.8" stroke="#222" stroke-width="0.5" fill="none"/>
<path d="M327.18 3.25 L328.13 4.97 L327.18 12.7 L326.23 4.97 Z" fill="#111"/>
<path d="M331.07 1.34 V12.8" stroke="#222" stroke-width="0.5" fill="none"/>
<path d="M331.07 3.25 L332.02 4.97 L331.07 12.7 L330.12 4.97 Z" fill="#111"/>
<path d="M388.95 12.8 V1.34 H412.78 V12.8" fill="none" stroke="#333" stroke-width="0.6"/>
<path d="M389.15 1.34 V12.8" stroke="#222" stroke-width="0.5" fill="none"/>
<path d="M389.15 3.25 L390.1 4.97 L389.15 12.7 L388.2 4.97 Z" fill="#111"/>
<path d="M393.05 1.34 V12.8" stroke="#222" stroke-width="0.5" fill="none"/>
<path d="M393.05 3.25 L394 4.97 L393.05 12.7 L392.1 4.97 Z" fill="#111"/>
<path d="M396.95 1.34 V12.8" stroke="#222" stroke-width="0.5" fill="none"/>
<path d="M396.95 3.25 L397.9 4.97 L396.95 12.7 L396 4.97 Z" fill="#111"/>
<path d="M400.84 1.34 V12.8" stroke="#222" stroke-width="0.5" fill="none"/>
<path d="M400.84 3.25 L401.79 4.97 L400.84 12.7 L399.89 4.97 Z" fill="#111"/>
<path d="M404.74 1.34 V12.8" stroke="#222" stroke-width="0.5" fill="none"/>
<path d="M404.74 3.25 L405.69 4.97 L404.74 12.7 L403.79 4.97 Z" fill="#111"/>
<path d="M408.64 1.34 V12.8" stroke="#222" stroke-width="0.5" fill="none"/>
<path d="M408.64 3.25 L409.59 4.97 L408.64 12.7 L407.69 4.97 Z" fill="#111"/>
<path d="M412.53 1.34 V12.8" stroke="#222" stroke-width="0.5" fill="none"/>
<path d="M412.53 3.25 L413.48 4.97 L412.53 12.7 L411.58 4.97 Z" fill="#111"/>
<line x1="297" y1="18.63" x2="306.03" y2="13.09" stroke="#f07878" stroke-width="0.45"/>
<line x1="302.81" y1="25.79" x2="307.28" y2="18.15" stroke="#f07878" stroke-width="0.45"/>
<line x1="335.75" y1="8.03" x2="331.59" y2="13.09" stroke="#f07878" stroke-width="0.45"/>
<line x1="333.36" y1="13.66" x2="337" y2="17" stroke="#f07878" stroke-width="0.45"/>
<line x1="330.35" y1="18.63" x2="333.36" y2="23.69" stroke="#f07878" stroke-width="0.45"/>
<line x1="347.91" y1="6.97" x2="354.04" y2="12.51" stroke="#f07878" stroke-width="0.45"/>
<line x1="345.52" y1="15.86" x2="351.02" y2="13.09" stroke="#f07878" stroke-width="0.45"/>
<line x1="351.34" y1="23.11" x2="354.04" y2="15.28" stroke="#f07878" stroke-width="0.45"/>
<line x1="379.91" y1="13.66" x2="385.73" y2="17" stroke="#f07878" stroke-width="0.45"/>
<line x1="377.52" y1="17.57" x2="384.17" y2="24.83" stroke="#f07878" stroke-width="0.45"/>
<text x="292.74" y="21.62" text-anchor="middle" font-family='"Liberation Serif", serif' font-size="6" fill="#666">5</text>
<text x="300.42" y="29.74" text-anchor="middle" font-family='"Liberation Serif", serif' font-size="6" fill="#666">1</text>
<text x="337" y="8.44" text-anchor="middle" font-family='"Liberation Serif", serif' font-size="6" fill="#666">10</text>
<text x="346.76" y="8.44" text-anchor="middle" font-family='"Liberation Serif", serif' font-size="6" fill="#666">9</text>
<text x="338.24" y="20.19" text-anchor="middle" font-family='"Liberation Serif", serif' font-size="6" fill="#666">8</text>
<text x="343.96" y="18.47" text-anchor="middle" font-family='"Liberation Serif", serif' font-size="6" fill="#666">7</text>
<text x="333.98" y="27.83" text-anchor="middle" font-family='"Liberation Serif", serif' font-size="6" fill="#666">4</text>
<text x="347.7" y="27.35" text-anchor="middle" font-family='"Liberation Serif", serif' font-size="6" fill="#666">3</text>
<text x="387.8" y="19.9" text-anchor="middle" font-family='"Liberation Serif", serif' font-size="6" fill="#666">6</text>
<text x="386.25" y="29.36" text-anchor="middle" font-family='"Liberation Serif", serif' font-size="6" fill="#666">2</text>
<circle cx="334.3" cy="25.88" r="7.3" fill="none" stroke="#f05858" stroke-width="0.6"/>
</g>
<g>
<path d="M456.12 45.6 H571 l1 -1.8 l1.2 2.6 l0.8 -0.8 H683.61" fill="none" stroke="#858585" stroke-width="0.9"/>
<path d="M467.5 16.4 V45.6 M674.91 16.4 V45.6" fill="none" stroke="#444" stroke-width="0.8"/>
<line x1="467.1" y1="16.4" x2="675.31" y2="16.4" stroke="#555" stroke-width="1.1"/>
<line x1="467.1" y1="16.3" x2="502.28" y2="16.3" stroke="#111" stroke-width="1.5"/>
<rect x="491.93" y="33" width="19.67" height="4.73" rx="2.4" fill="#fff" stroke="#8a8a8a" stroke-width="0.6"/>
<circle cx="489.39" cy="18.14" r="1.35" fill="#fff" stroke="#222" stroke-width="0.7"/>
<circle cx="514.13" cy="18.14" r="1.35" fill="#fff" stroke="#222" stroke-width="0.7"/>
<path d="M490.27 16.69 L495.03 35.6 H508.49 L513.25 16.69" fill="#fff" stroke="#222" stroke-width="1.1" stroke-linejoin="round"/>
<text x="0" y="0" transform="translate(501.76 29.91) scale(0.55 1)" text-anchor="middle" font-family='"Liberation Serif", serif' font-size="10.5" fill="#505050">R1</text>
<rect x="538.29" y="33" width="19.67" height="4.73" rx="2.4" fill="#fff" stroke="#8a8a8a" stroke-width="0.6"/>
<circle cx="535.76" cy="18.14" r="1.35" fill="#fff" stroke="#222" stroke-width="0.7"/>
<circle cx="560.49" cy="18.14" r="1.35" fill="#fff" stroke="#222" stroke-width="0.7"/>
<path d="M536.64 16.69 L541.4 35.6 H554.85 L559.62 16.69" fill="#fff" stroke="#222" stroke-width="1.1" stroke-linejoin="round"/>
<text x="0" y="0" transform="translate(548.13 29.91) scale(0.55 1)" text-anchor="middle" font-family='"Liberation Serif", serif' font-size="10.5" fill="#505050">R2</text>
<rect x="584.45" y="33" width="19.87" height="4.73" rx="2.4" fill="#fff" stroke="#8a8a8a" stroke-width="0.6"/>
<circle cx="581.92" cy="18.14" r="1.35" fill="#fff" stroke="#222" stroke-width="0.7"/>
<circle cx="606.86" cy="18.14" r="1.35" fill="#fff" stroke="#222" stroke-width="0.7"/>
<path d="M582.8 16.69 L587.56 35.6 H601.22 L605.98 16.69" fill="#fff" stroke="#222" stroke-width="1.1" stroke-linejoin="round"/>
<text x="0" y="0" transform="translate(594.39 29.91) scale(0.55 1)" text-anchor="middle" font-family='"Liberation Serif", serif' font-size="10.5" fill="#505050">R3</text>
<rect x="630.62" y="33" width="19.66" height="4.73" rx="2.4" fill="#fff" stroke="#8a8a8a" stroke-width="0.6"/>
<circle cx="628.08" cy="18.14" r="1.35" fill="#fff" stroke="#222" stroke-width="0.7"/>
<circle cx="652.82" cy="18.14" r="1.35" fill="#fff" stroke="#222" stroke-width="0.7"/>
<path d="M628.96 16.69 L633.72 35.6 H647.18 L651.94 16.69" fill="#fff" stroke="#222" stroke-width="1.1" stroke-linejoin="round"/>
<text x="0" y="0" transform="translate(640.45 29.91) scale(0.55 1)" text-anchor="middle" font-family='"Liberation Serif", serif' font-size="10.5" fill="#505050">R4</text>
<path d="M536.23 16.4 V5.3 H559.97 V16.4" fill="none" stroke="#333" stroke-width="0.6"/>
<path d="M536.43 5.3 V16.4" stroke="#222" stroke-width="0.5" fill="none"/>
<path d="M536.43 7.23 L537.38 8.97 L536.43 16.3 L535.48 8.97 Z" fill="#111"/>
<path d="M540.31 5.3 V16.4" stroke="#222" stroke-width="0.5" fill="none"/>
<path d="M540.31 7.23 L541.26 8.97 L540.31 16.3 L539.36 8.97 Z" fill="#111"/>
<path d="M544.19 5.3 V16.4" stroke="#222" stroke-width="0.5" fill="none"/>
<path d="M544.19 7.23 L545.14 8.97 L544.19 16.3 L543.24 8.97 Z" fill="#111"/>
<path d="M548.07 5.3 V16.4" stroke="#222" stroke-width="0.5" fill="none"/>
<path d="M548.07 7.23 L549.02 8.97 L548.07 16.3 L547.12 8.97 Z" fill="#111"/>
<path d="M551.96 5.3 V16.4" stroke="#222" stroke-width="0.5" fill="none"/>
<path d="M551.96 7.23 L552.91 8.97 L551.96 16.3 L551.01 8.97 Z" fill="#111"/>
<path d="M555.84 5.3 V16.4" stroke="#222" stroke-width="0.5" fill="none"/>
<path d="M555.84 7.23 L556.79 8.97 L555.84 16.3 L554.89 8.97 Z" fill="#111"/>
<path d="M559.72 5.3 V16.4" stroke="#222" stroke-width="0.5" fill="none"/>
<path d="M559.72 7.23 L560.67 8.97 L559.72 16.3 L558.77 8.97 Z" fill="#111"/>
<path d="M617.38 16.4 V5.3 H641.11 V16.4" fill="none" stroke="#333" stroke-width="0.6"/>
<path d="M617.58 5.3 V16.4" stroke="#222" stroke-width="0.5" fill="none"/>
<path d="M617.58 7.23 L618.53 8.97 L617.58 16.3 L616.62 8.97 Z" fill="#111"/>
<path d="M621.46 5.3 V16.4" stroke="#222" stroke-width="0.5" fill="none"/>
<path d="M621.46 7.23 L622.41 8.97 L621.46 16.3 L620.51 8.97 Z" fill="#111"/>
<path d="M625.34 5.3 V16.4" stroke="#222" stroke-width="0.5" fill="none"/>
<path d="M625.34 7.23 L626.29 8.97 L625.34 16.3 L624.39 8.97 Z" fill="#111"/>
<path d="M629.22 5.3 V16.4" stroke="#222" stroke-width="0.5" fill="none"/>
<path d="M629.22 7.23 L630.17 8.97 L629.22 16.3 L628.27 8.97 Z" fill="#111"/>
<path d="M633.1 5.3 V16.4" stroke="#222" stroke-width="0.5" fill="none"/>
<path d="M633.1 7.23 L634.05 8.97 L633.1 16.3 L632.15 8.97 Z" fill="#111"/>
<path d="M636.98 5.3 V16.4" stroke="#222" stroke-width="0.5" fill="none"/>
<path d="M636.98 7.23 L637.93 8.97 L636.98 16.3 L636.03 8.97 Z" fill="#111"/>
<path d="M640.86 5.3 V16.4" stroke="#222" stroke-width="0.5" fill="none"/>
<path d="M640.86 7.23 L641.81 8.97 L640.86 16.3 L639.91 8.97 Z" fill="#111"/>
<line x1="525.77" y1="22.29" x2="534.77" y2="16.69" stroke="#f07878" stroke-width="0.45"/>
<line x1="531.57" y1="29.52" x2="536.02" y2="21.8" stroke="#f07878" stroke-width="0.45"/>
<line x1="564.38" y1="11.57" x2="560.24" y2="16.69" stroke="#f07878" stroke-width="0.45"/>
<line x1="562" y1="17.27" x2="565.62" y2="20.65" stroke="#f07878" stroke-width="0.45"/>
<line x1="558.99" y1="22.29" x2="562" y2="27.4" stroke="#f07878" stroke-width="0.45"/>
<line x1="576.49" y1="10.51" x2="582.59" y2="16.11" stroke="#f07878" stroke-width="0.45"/>
<line x1="574.11" y1="19.49" x2="579.59" y2="16.69" stroke="#f07878" stroke-width="0.45"/>
<line x1="579.9" y1="26.82" x2="582.59" y2="18.91" stroke="#f07878" stroke-width="0.45"/>
<line x1="608.36" y1="17.27" x2="614.16" y2="20.65" stroke="#f07878" stroke-width="0.45"/>
<line x1="605.98" y1="21.22" x2="612.61" y2="28.56" stroke="#f07878" stroke-width="0.45"/>
<text x="521.53" y="25.22" text-anchor="middle" font-family='"Liberation Serif", serif' font-size="5.8" fill="#666">5</text>
<text x="529.19" y="33.43" text-anchor="middle" font-family='"Liberation Serif", serif' font-size="5.8" fill="#666">1</text>
<text x="565.62" y="11.91" text-anchor="middle" font-family='"Liberation Serif", serif' font-size="5.8" fill="#666">10</text>
<text x="575.35" y="11.91" text-anchor="middle" font-family='"Liberation Serif", serif' font-size="5.8" fill="#666">9</text>
<text x="566.86" y="23.78" text-anchor="middle" font-family='"Liberation Serif", serif' font-size="5.8" fill="#666">8</text>
<text x="572.55" y="22.04" text-anchor="middle" font-family='"Liberation Serif", serif' font-size="5.8" fill="#666">7</text>
<text x="562.62" y="31.5" text-anchor="middle" font-family='"Liberation Serif", serif' font-size="5.8" fill="#666">4</text>
<text x="576.28" y="31.01" text-anchor="middle" font-family='"Liberation Serif", serif' font-size="5.8" fill="#666">3</text>
<text x="616.23" y="23.49" text-anchor="middle" font-family='"Liberation Serif", serif' font-size="5.8" fill="#666">6</text>
<text x="614.68" y="33.04" text-anchor="middle" font-family='"Liberation Serif", serif' font-size="5.8" fill="#666">2</text>
<circle cx="521.63" cy="23.44" r="7" fill="none" stroke="#f05858" stroke-width="0.6"/>
</g>
<g>
<path d="M229.03 256 H343.6 l1 -1.8 l1.2 2.6 l0.8 -0.8 H455.79" fill="none" stroke="#858585" stroke-width="0.9"/>
<path d="M240.2 226.4 V256 M447.41 226.4 V256" fill="none" stroke="#444" stroke-width="0.8"/>
<line x1="239.8" y1="226.4" x2="447.81" y2="226.4" stroke="#555" stroke-width="1.1"/>
<line x1="239.8" y1="226.3" x2="274.94" y2="226.3" stroke="#111" stroke-width="1.5"/>
<rect x="264.6" y="243.6" width="19.65" height="4.9" rx="2.4" fill="#fff" stroke="#8a8a8a" stroke-width="0.6"/>
<circle cx="262.07" cy="228.2" r="1.35" fill="#fff" stroke="#222" stroke-width="0.7"/>
<circle cx="286.78" cy="228.2" r="1.35" fill="#fff" stroke="#222" stroke-width="0.7"/>
<path d="M262.95 226.7 L267.7 246.3 H281.15 L285.9 226.7" fill="#fff" stroke="#222" stroke-width="1.1" stroke-linejoin="round"/>
<text x="0" y="0" transform="translate(274.43 240.4) scale(0.55 1)" text-anchor="middle" font-family='"Liberation Serif", serif' font-size="10.5" fill="#505050">R1</text>
<rect x="310.93" y="243.6" width="19.65" height="4.9" rx="2.4" fill="#fff" stroke="#8a8a8a" stroke-width="0.6"/>
<circle cx="308.39" cy="228.2" r="1.35" fill="#fff" stroke="#222" stroke-width="0.7"/>
<circle cx="333.1" cy="228.2" r="1.35" fill="#fff" stroke="#222" stroke-width="0.7"/>
<path d="M309.27 226.7 L314.03 246.3 H327.47 L332.23 226.7" fill="#fff" stroke="#222" stroke-width="1.1" stroke-linejoin="round"/>
<text x="0" y="0" transform="translate(320.75 240.4) scale(0.55 1)" text-anchor="middle" font-family='"Liberation Serif", serif' font-size="10.5" fill="#505050">R2</text>
<rect x="357.04" y="243.6" width="19.85" height="4.9" rx="2.4" fill="#fff" stroke="#8a8a8a" stroke-width="0.6"/>
<circle cx="354.51" cy="228.2" r="1.35" fill="#fff" stroke="#222" stroke-width="0.7"/>
<circle cx="379.43" cy="228.2" r="1.35" fill="#fff" stroke="#222" stroke-width="0.7"/>
<path d="M355.39 226.7 L360.14 246.3 H373.79 L378.55 226.7" fill="#fff" stroke="#222" stroke-width="1.1" stroke-linejoin="round"/>
<text x="0" y="0" transform="translate(366.97 240.4) scale(0.55 1)" text-anchor="middle" font-family='"Liberation Serif", serif' font-size="10.5" fill="#505050">R3</text>
<rect x="403.16" y="243.6" width="19.65" height="4.9" rx="2.4" fill="#fff" stroke="#8a8a8a" stroke-width="0.6"/>
<circle cx="400.63" cy="228.2" r="1.35" fill="#fff" stroke="#222" stroke-width="0.7"/>
<circle cx="425.34" cy="228.2" r="1.35" fill="#fff" stroke="#222" stroke-width="0.7"/>
<path d="M401.5 226.7 L406.26 246.3 H419.7 L424.46 226.7" fill="#fff" stroke="#222" stroke-width="1.1" stroke-linejoin="round"/>
<text x="0" y="0" transform="translate(412.98 240.4) scale(0.55 1)" text-anchor="middle" font-family='"Liberation Serif", serif' font-size="10.5" fill="#505050">R4</text>
<path d="M308.86 226.4 V215.3 H332.58 V226.4" fill="none" stroke="#333" stroke-width="0.6"/>
<path d="M309.06 215.3 V226.4" stroke="#222" stroke-width="0.5" fill="none"/>
<path d="M309.06 217.3 L310.01 219.1 L309.06 226.3 L308.11 219.1 Z" fill="#111"/>
<path d="M312.94 215.3 V226.4" stroke="#222" stroke-width="0.5" fill="none"/>
<path d="M312.94 217.3 L313.89 219.1 L312.94 226.3 L311.99 219.1 Z" fill="#111"/>
<path d="M316.82 215.3 V226.4" stroke="#222" stroke-width="0.5" fill="none"/>
<path d="M316.82 217.3 L317.77 219.1 L316.82 226.3 L315.87 219.1 Z" fill="#111"/>
<path d="M320.7 215.3 V226.4" stroke="#222" stroke-width="0.5" fill="none"/>
<path d="M320.7 217.3 L321.65 219.1 L320.7 226.3 L319.75 219.1 Z" fill="#111"/>
<path d="M324.57 215.3 V226.4" stroke="#222" stroke-width="0.5" fill="none"/>
<path d="M324.57 217.3 L325.52 219.1 L324.57 226.3 L323.62 219.1 Z" fill="#111"/>
<path d="M328.45 215.3 V226.4" stroke="#222" stroke-width="0.5" fill="none"/>
<path d="M328.45 217.3 L329.4 219.1 L328.45 226.3 L327.5 219.1 Z" fill="#111"/>
<path d="M332.33 215.3 V226.4" stroke="#222" stroke-width="0.5" fill="none"/>
<path d="M332.33 217.3 L333.28 219.1 L332.33 226.3 L331.38 219.1 Z" fill="#111"/>
<path d="M389.93 226.4 V215.3 H413.64 V226.4" fill="none" stroke="#333" stroke-width="0.6"/>
<path d="M390.13 215.3 V226.4" stroke="#222" stroke-width="0.5" fill="none"/>
<path d="M390.13 217.3 L391.08 219.1 L390.13 226.3 L389.18 219.1 Z" fill="#111"/>
<path d="M394.01 215.3 V226.4" stroke="#222" stroke-width="0.5" fill="none"/>
<path d="M394.01 217.3 L394.96 219.1 L394.01 226.3 L393.06 219.1 Z" fill="#111"/>
<path d="M397.88 215.3 V226.4" stroke="#222" stroke-width="0.5" fill="none"/>
<path d="M397.88 217.3 L398.83 219.1 L397.88 226.3 L396.94 219.1 Z" fill="#111"/>
<path d="M401.76 215.3 V226.4" stroke="#222" stroke-width="0.5" fill="none"/>
<path d="M401.76 217.3 L402.71 219.1 L401.76 226.3 L400.81 219.1 Z" fill="#111"/>
<path d="M405.64 215.3 V226.4" stroke="#222" stroke-width="0.5" fill="none"/>
<path d="M405.64 217.3 L406.59 219.1 L405.64 226.3 L404.69 219.1 Z" fill="#111"/>
<path d="M409.52 215.3 V226.4" stroke="#222" stroke-width="0.5" fill="none"/>
<path d="M409.52 217.3 L410.47 219.1 L409.52 226.3 L408.57 219.1 Z" fill="#111"/>
<path d="M413.39 215.3 V226.4" stroke="#222" stroke-width="0.5" fill="none"/>
<path d="M413.39 217.3 L414.34 219.1 L413.39 226.3 L412.44 219.1 Z" fill="#111"/>
<line x1="298.41" y1="232.5" x2="307.41" y2="226.7" stroke="#f07878" stroke-width="0.45"/>
<line x1="304.2" y1="240" x2="308.65" y2="232" stroke="#f07878" stroke-width="0.45"/>
<line x1="336.98" y1="221.4" x2="332.85" y2="226.7" stroke="#f07878" stroke-width="0.45"/>
<line x1="334.6" y1="227.3" x2="338.22" y2="230.8" stroke="#f07878" stroke-width="0.45"/>
<line x1="331.61" y1="232.5" x2="334.6" y2="237.8" stroke="#f07878" stroke-width="0.45"/>
<line x1="349.08" y1="220.3" x2="355.18" y2="226.1" stroke="#f07878" stroke-width="0.45"/>
<line x1="346.7" y1="229.6" x2="352.18" y2="226.7" stroke="#f07878" stroke-width="0.45"/>
<line x1="352.49" y1="237.2" x2="355.18" y2="229" stroke="#f07878" stroke-width="0.45"/>
<line x1="380.93" y1="227.3" x2="386.72" y2="230.8" stroke="#f07878" stroke-width="0.45"/>
<line x1="378.55" y1="231.4" x2="385.17" y2="239" stroke="#f07878" stroke-width="0.45"/>
<text x="294.17" y="235.47" text-anchor="middle" font-family='"Liberation Serif", serif' font-size="5.8" fill="#666">5</text>
<text x="301.83" y="243.97" text-anchor="middle" font-family='"Liberation Serif", serif' font-size="5.8" fill="#666">1</text>
<text x="338.22" y="221.67" text-anchor="middle" font-family='"Liberation Serif", serif' font-size="5.8" fill="#666">10</text>
<text x="347.94" y="221.67" text-anchor="middle" font-family='"Liberation Serif", serif' font-size="5.8" fill="#666">9</text>
<text x="339.46" y="233.97" text-anchor="middle" font-family='"Liberation Serif", serif' font-size="5.8" fill="#666">8</text>
<text x="335.22" y="241.97" text-anchor="middle" font-family='"Liberation Serif", serif' font-size="5.8" fill="#666">4</text>
<text x="348.87" y="241.47" text-anchor="middle" font-family='"Liberation Serif", serif' font-size="5.8" fill="#666">3</text>
<text x="388.79" y="233.67" text-anchor="middle" font-family='"Liberation Serif", serif' font-size="5.8" fill="#666">6</text>
<text x="387.23" y="243.57" text-anchor="middle" font-family='"Liberation Serif", serif' font-size="5.8" fill="#666">2</text>
<circle cx="339.05" cy="230.7" r="6.7" fill="none" stroke="#f05858" stroke-width="0.6"/>
</g>
</svg>
</body>
</html>
